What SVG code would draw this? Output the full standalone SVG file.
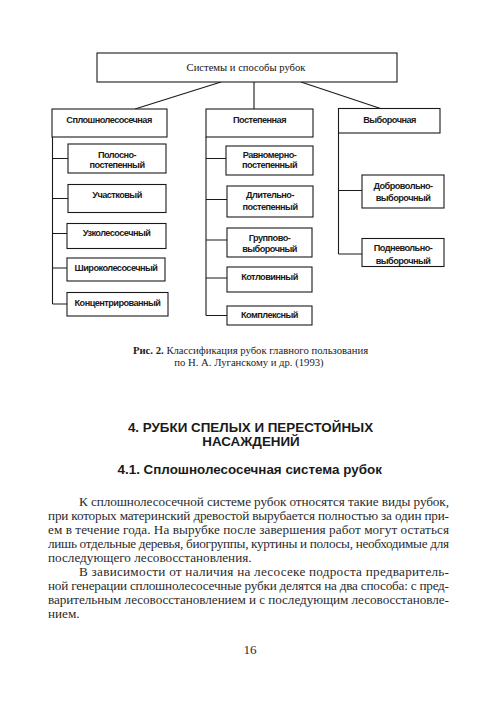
<svg xmlns="http://www.w3.org/2000/svg" width="500" height="710" viewBox="0 0 500 710">
<style>
.bx{fill:#fff;stroke:#1a1a1a;stroke-width:1.1}
.cn{fill:none;stroke:#1a1a1a;stroke-width:1.1}
.lb{font-family:"Liberation Sans",Arial,sans-serif;font-size:9.2px;font-weight:bold;fill:#1a1a1a;text-anchor:middle;letter-spacing:-0.55px}
.tt{font-family:"Liberation Serif","Times New Roman",serif;font-size:10.6px;fill:#111;text-anchor:middle}
.cap{font-family:"Liberation Serif","Times New Roman",serif;font-size:10.7px;fill:#222;text-anchor:middle}
.h{font-family:"Liberation Sans",Arial,sans-serif;font-weight:bold;fill:#1a1a1a;text-anchor:middle;font-size:13.4px}
.b{font-family:"Liberation Serif","Times New Roman",serif;font-size:13.2px;fill:#2a2a2a}
</style>
<rect width="500" height="710" fill="#fff"/>
<g id="connectors">
<path class="cn" d="M221,82 L135,109 M254,82 V109 M301,82 L382,109"/>
<path class="cn" d="M52.5,137 V304 M52.5,158.5 H68 M52.5,198.5 H68 M52.5,233.5 H67 M52.5,268 H67 M52.5,304 H67"/>
<path class="cn" d="M206,137 V315.5 M206,158.5 H226 M206,199.5 H227 M206,240 H227 M206,278 H227 M206,315.5 H227"/>
<path class="cn" d="M338.5,133 V254 M338.5,190.5 H362 M338.5,254 H362"/>
</g>
<g id="root"><rect class="bx" x="97" y="53" width="300" height="29"/><text class="tt" x="246" y="71">Системы и способы рубок</text></g>
<g id="n-sploshno"><rect class="bx" x="52" y="109" width="115" height="28"/><text class="lb" x="109" y="122.5">Сплошнолесосечная</text></g>
<g id="n-postepennaya"><rect class="bx" x="206" y="109" width="107" height="28"/><text class="lb" x="259.5" y="122.5">Постепенная</text></g>
<g id="n-vyborochnaya"><rect class="bx" x="338.5" y="108.5" width="101.5" height="24.5"/><text class="lb" x="389.5" y="122.5">Выборочная</text></g>

<g id="n-polosno"><rect class="bx" x="68" y="144" width="98" height="29"/><text class="lb" x="117" y="157.5">Полосно-</text><text class="lb" x="117" y="168">постепенный</text></g>
<g id="n-uchastkovy"><rect class="bx" x="68" y="184.5" width="98" height="28"/><text class="lb" x="117" y="197.5">Участковый</text></g>
<g id="n-uzko"><rect class="bx" x="67" y="223.5" width="99" height="25"/><text class="lb" x="116.5" y="236">Узколесосечный</text></g>
<g id="n-shiroko"><rect class="bx" x="67" y="258" width="98" height="23"/><text class="lb" x="116" y="270.6">Широколесосечный</text></g>
<g id="n-koncentr"><rect class="bx" x="67" y="292.5" width="101" height="23.5"/><text class="lb" x="117.5" y="305.6">Концентрированный</text></g>

<g id="n-ravnomerno"><rect class="bx" x="226" y="146" width="87" height="29"/><text class="lb" x="269.5" y="157.5">Равномерно-</text><text class="lb" x="269.5" y="168">постепенный</text></g>
<g id="n-dlitelno"><rect class="bx" x="227" y="186" width="86" height="31"/><text class="lb" x="270" y="198">Длительно-</text><text class="lb" x="270" y="210">постепенный</text></g>
<g id="n-gruppovo"><rect class="bx" x="227" y="228" width="85" height="29"/><text class="lb" x="269.5" y="241">Группово-</text><text class="lb" x="269.5" y="252">выборочный</text></g>
<g id="n-kotlovinny"><rect class="bx" x="227" y="267" width="85" height="25"/><text class="lb" x="269.5" y="280">Котловинный</text></g>
<g id="n-kompleksny"><rect class="bx" x="227" y="306" width="85" height="19"/><text class="lb" x="269.5" y="318">Комплексный</text></g>

<g id="n-dobrovolno"><rect class="bx" x="362" y="175" width="82" height="33"/><text class="lb" x="403" y="188.5">Добровольно-</text><text class="lb" x="403" y="201">выборочный</text></g>
<g id="n-podnevolno"><rect class="bx" x="362" y="238.5" width="82" height="28"/><text class="lb" x="403" y="251">Подневольно-</text><text class="lb" x="403" y="263.5">выборочный</text></g>

<text class="cap" x="250.5" y="354"><tspan font-weight="bold">Рис. 2.</tspan> Классификация рубок главного пользования</text>
<text class="cap" x="249" y="366">по Н. А. Луганскому и др. (1993)</text>

<text class="h" x="250.5" y="432">4. РУБКИ СПЕЛЫХ И ПЕРЕСТОЙНЫХ</text>
<text class="h" x="251" y="446">НАСАЖДЕНИЙ</text>
<text class="h" x="249.7" y="474">4.1. Сплошнолесосечная система рубок</text>

<text class="b" x="79" y="506" textLength="370" lengthAdjust="spacing">К сплошнолесосечной системе рубок относятся такие виды рубок,</text>
<text class="b" x="48" y="520" textLength="401" lengthAdjust="spacing">при которых материнский древостой вырубается полностью за один при-</text>
<text class="b" x="48" y="534" textLength="401" lengthAdjust="spacing">ем в течение года. На вырубке после завершения работ могут остаться</text>
<text class="b" x="48" y="548" textLength="401" lengthAdjust="spacing">лишь отдельные деревья, биогруппы, куртины и полосы, необходимые для</text>
<text class="b" x="48" y="562">последующего лесовосстановления.</text>
<text class="b" x="79" y="576" textLength="370" lengthAdjust="spacing">В зависимости от наличия на лесосеке подроста предваритель-</text>
<text class="b" x="48" y="590" textLength="401" lengthAdjust="spacing">ной генерации сплошнолесосечные рубки делятся на два способа: с пред-</text>
<text class="b" x="48" y="604" textLength="401" lengthAdjust="spacing">варительным лесовосстановлением и с последующим лесовосстановле-</text>
<text class="b" x="48" y="618">нием.</text>
<text class="b" x="250" y="654" text-anchor="middle" font-size="12.5">16</text>
</svg>
